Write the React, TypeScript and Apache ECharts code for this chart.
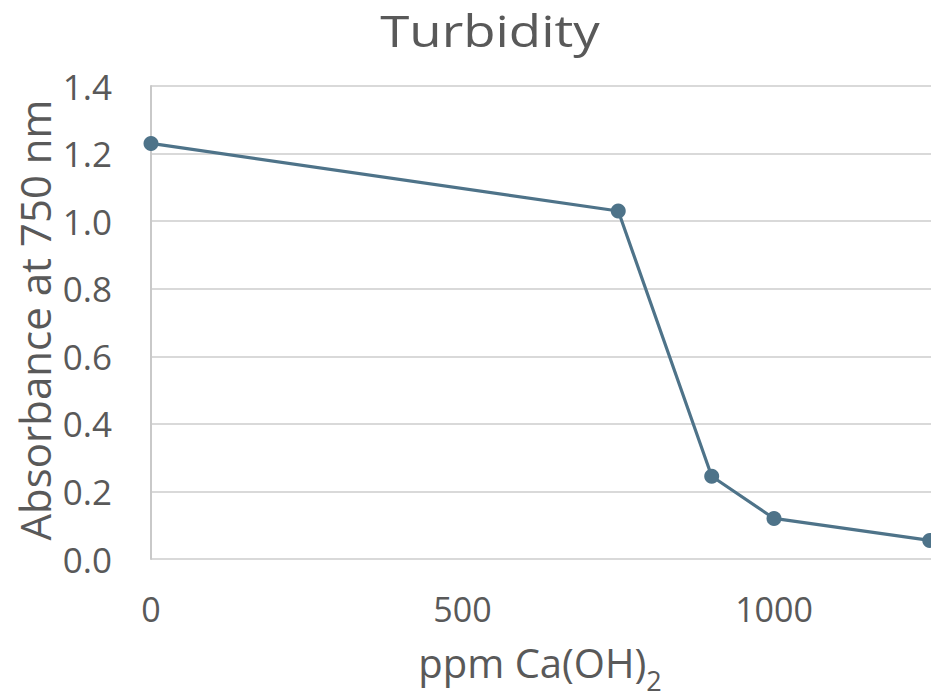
import React, { useEffect, useRef } from "react";
import * as echarts from "echarts";

// ppm Ca(OH)2 dosage vs absorbance at 750 nm
const doses = [0, 750, 900, 1000, 1250];
const absorbance = [1.23, 1.03, 0.245, 0.12, 0.055];
const xTicks = [0, 500, 1000];
const yTicks = [0, 0.2, 0.4, 0.6, 0.8, 1.0, 1.2, 1.4];

const TEXT = "#595959";
const LINE = "#4e7389";
const FONT = "'Open Sans'";

export default function App() {
  const ref = useRef<HTMLDivElement>(null);
  useEffect(() => {
    if (!ref.current) return;
    const chart = echarts.init(ref.current, undefined, { renderer: "svg" });
    chart.setOption({
      animation: false,
      backgroundColor: "#ffffff",
      grid: { left: 151, top: 86, bottom: 141, right: 0, containLabel: false },
      xAxis: {
        type: "value",
        min: 0,
        max: 1252,
        interval: 500,
        axisLine: { show: false },
        axisTick: { show: false },
        splitLine: { show: false },
        axisLabel: {
          color: TEXT,
          fontSize: 34,
          fontFamily: FONT,
          margin: 33,
          showMaxLabel: false,
          formatter: (v: number) => (xTicks.includes(Math.round(v)) ? String(Math.round(v)) : ""),
        },
      },
      yAxis: {
        type: "value",
        min: 0,
        max: 1.4,
        interval: 0.2,
        axisLine: { show: true, lineStyle: { color: "#c9c9c9", width: 2 } },
        axisTick: { show: false },
        splitLine: { show: true, lineStyle: { color: "#d9d9d9", width: 2 } },
        axisLabel: {
          color: TEXT,
          fontSize: 35,
          fontFamily: FONT,
          margin: 39,
          formatter: (v: number) => (yTicks.includes(Number(v.toFixed(1))) ? v.toFixed(1) : ""),
        },
      },
      series: [
        {
          type: "line",
          data: doses.map((d, i) => [d, absorbance[i]]),
          symbol: "circle",
          symbolSize: 15,
          clip: false,
          lineStyle: { color: LINE, width: 3.2 },
          itemStyle: { color: LINE },
        },
      ],
      graphic: [
        {
          type: "text",
          x: 490,
          y: 30,
          scaleX: 1.2,
          style: {
            text: "Turbidity",
            fill: TEXT,
            font: `44px ${FONT}`,
            textAlign: "center",
            textVerticalAlign: "middle",
          },
        },
        {
          type: "text",
          x: 34,
          y: 320,
          rotation: Math.PI / 2,
          style: {
            text: "Absorbance at 750 nm",
            fill: TEXT,
            font: `42px ${FONT}`,
            textAlign: "center",
            textVerticalAlign: "middle",
          },
        },
        {
          type: "text",
          x: 540,
          y: 642,
          style: {
            text: "{a|ppm Ca(OH)}{s|2}",
            textAlign: "center",
            textVerticalAlign: "top",
            rich: {
              a: { fill: TEXT, fontSize: 40, fontFamily: FONT, lineHeight: 40, verticalAlign: "top" },
              s: { fill: TEXT, fontSize: 27, fontFamily: FONT, lineHeight: 26, verticalAlign: "top", padding: [25, 0, 0, 0] },
            },
          },
        },
      ],
    });
    return () => chart.dispose();
  }, []);
  return <div ref={ref} style={{ width: 931, height: 700, position: "absolute", left: 0, top: 0 }} />;
}
